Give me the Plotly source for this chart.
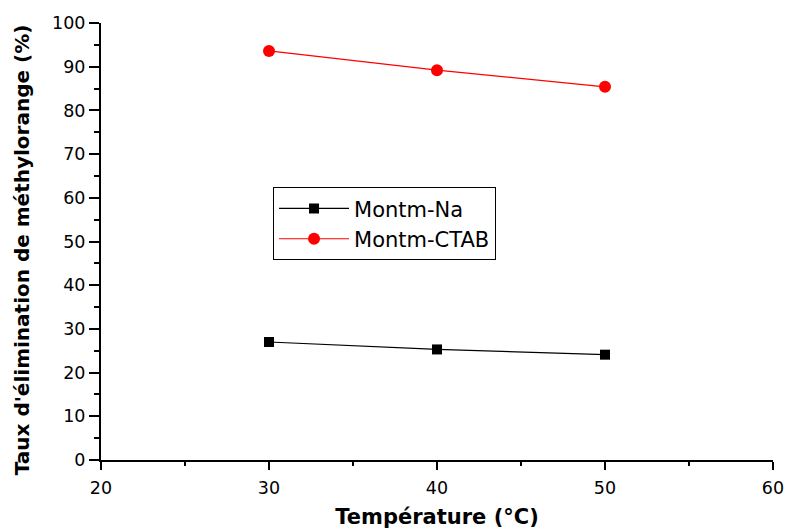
import plotly.graph_objects as go

temperature = [30, 40, 50]
montm_na = [27.0, 25.3, 24.1]
montm_ctab = [93.6, 89.2, 85.4]

x_ticks = [20, 30, 40, 50, 60]
y_ticks = [0, 10, 20, 30, 40, 50, 60, 70, 80, 90, 100]

fig = go.Figure()
fig.add_trace(go.Scatter(
    x=temperature, y=montm_na, name="Montm-Na", mode="lines+markers",
    line=dict(color="black", width=1.2),
    marker=dict(symbol="square", size=10, color="black"),
))
fig.add_trace(go.Scatter(
    x=temperature, y=montm_ctab, name="Montm-CTAB", mode="lines+markers",
    line=dict(color="red", width=1.2),
    marker=dict(symbol="circle", size=12, color="red"),
))

font_family = "DejaVu Sans, Liberation Sans, sans-serif"
fig.update_layout(
    width=786, height=529,
    margin=dict(l=101, r=13, t=23, b=69),
    paper_bgcolor="white", plot_bgcolor="white",
    font=dict(family=font_family, color="black", size=17),
    showlegend=True,
    legend=dict(
        x=0.256, y=0.624, xanchor="left", yanchor="top",
        bgcolor="white", bordercolor="black", borderwidth=1,
        font=dict(size=21, family=font_family),
        itemwidth=70, tracegroupgap=0,
        entrywidth=180, entrywidthmode="pixels",
    ),
    xaxis=dict(
        range=[20, 60], tickvals=x_ticks, ticktext=[str(v) for v in x_ticks],
        showline=True, linecolor="black", linewidth=2,
        ticks="outside", ticklen=8, tickwidth=2, tickcolor="black",
        showgrid=False, zeroline=False, automargin=False,
        ticklabeloverflow="allow", ticklabelstandoff=3,
        minor=dict(dtick=5, tick0=20, ticks="outside", ticklen=4, tickwidth=2, tickcolor="black", showgrid=False),
        title=dict(text="<b>Température (°C)</b>", font=dict(size=21, family=font_family), standoff=18),
        tickfont=dict(size=17.5),
    ),
    yaxis=dict(
        range=[0, 100], tickvals=y_ticks, ticktext=[str(v) for v in y_ticks],
        showline=True, linecolor="black", linewidth=2,
        ticks="outside", ticklen=10, tickwidth=2, tickcolor="black",
        showgrid=False, zeroline=False, automargin=False,
        ticklabeloverflow="allow",
        minor=dict(dtick=5, tick0=0, ticks="outside", ticklen=5, tickwidth=2, tickcolor="black", showgrid=False),
        tickfont=dict(size=17.5),
    ),
    annotations=[dict(
        text="<b>Taux d'élimination de méthylorange (%)</b>",
        xref="paper", yref="paper", x=0, y=0.48, xshift=-79,
        xanchor="center", yanchor="middle", textangle=-90, showarrow=False,
        font=dict(size=20, family=font_family, color="black"),
    )],
)

fig.write_html("out.html")
